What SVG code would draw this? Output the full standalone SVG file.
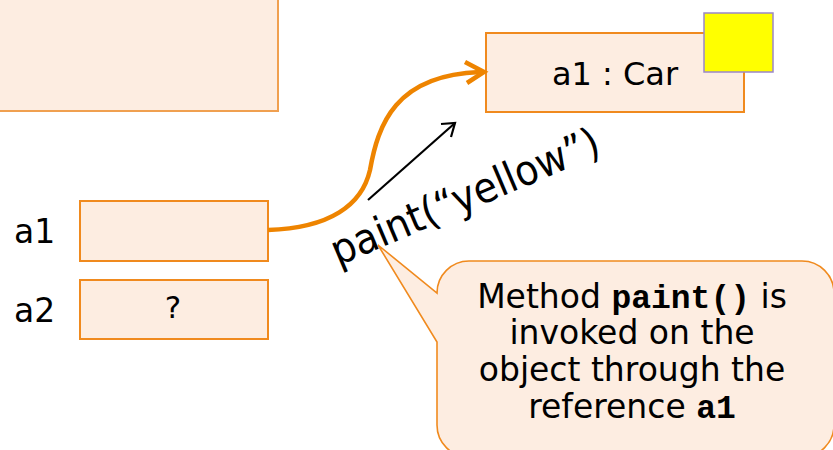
<svg xmlns="http://www.w3.org/2000/svg" width="833" height="450" viewBox="0 0 833 450">
  <defs>
    <style>
      .box { fill: #FDEDE1; stroke: #F08A1E; stroke-width: 2; }
      .lbl { font-family: "DejaVu Sans", Verdana, sans-serif; fill: #000; }
      .mono { font-family: "Liberation Mono", "Courier New", monospace; font-weight: bold; }
    </style>
  </defs>
  <rect width="833" height="450" fill="#FFFFFF"/>

  <!-- stack frame area -->
  <g id="frame">
    <rect class="box" x="-4" y="-4" width="282" height="115" style="stroke:#F0A050"/>
  </g>

  <!-- the Car object on the heap -->
  <g id="car">
    <rect class="box" x="486" y="33" width="258" height="79"/>
    <text class="lbl" x="615" y="85" font-size="32" text-anchor="middle">a1 : Car</text>
    <rect x="704" y="13" width="69" height="59" fill="#FFFF00" stroke="#9B87C9" stroke-width="1.5"/>
  </g>

  <!-- reference variables -->
  <g id="var-a1">
    <text class="lbl" x="14" y="243" font-size="33">a1</text>
    <rect class="box" x="80" y="201" width="188" height="60"/>
  </g>
  <g id="var-a2">
    <text class="lbl" x="14" y="322" font-size="33">a2</text>
    <rect class="box" x="80" y="280" width="188" height="59"/>
    <text class="lbl" x="173" y="318" font-size="31" text-anchor="middle">?</text>
  </g>

  <!-- connectors -->
  <g id="connectors" fill="none">
    <path d="M268,230 C330,228 362,205 370,170 C378,125 395,75 480,72" stroke="#EE8400" stroke-width="4.5"/>
    <path d="M465,62 L484,72 L467,83" stroke="#EE8400" stroke-width="4.5" stroke-linejoin="miter"/>
    <path d="M368,200 L455,123" stroke="#000" stroke-width="2.2"/>
    <path d="M441,124 L455,123 L451,137" stroke="#000" stroke-width="2.2"/>
  </g>

  <!-- method call label -->
  <g id="call-label">
    <text class="lbl" x="338" y="266" font-size="42" textLength="288" lengthAdjust="spacingAndGlyphs" transform="rotate(-23 338 266)">paint(“yellow”)</text>
  </g>

  <!-- explanatory callout -->
  <g id="callout">
    <path d="M469,261 H802 A32,32 0 0 1 834,293 V425 A32,32 0 0 1 802,457 H469 A32,32 0 0 1 437,425 V342 L378,245 L437,293 A32,32 0 0 1 469,261 Z" fill="#FDEDE1" stroke="#F08A1E" stroke-width="1.6"/>
    <g class="lbl" font-size="33" text-anchor="middle">
      <text x="632" y="308">Method <tspan class="mono" font-size="33">paint()</tspan> is</text>
      <text x="632" y="344">invoked on the</text>
      <text x="632" y="381">object through the</text>
      <text x="632" y="418">reference <tspan class="mono" font-size="33">a1</tspan></text>
    </g>
  </g>
</svg>
